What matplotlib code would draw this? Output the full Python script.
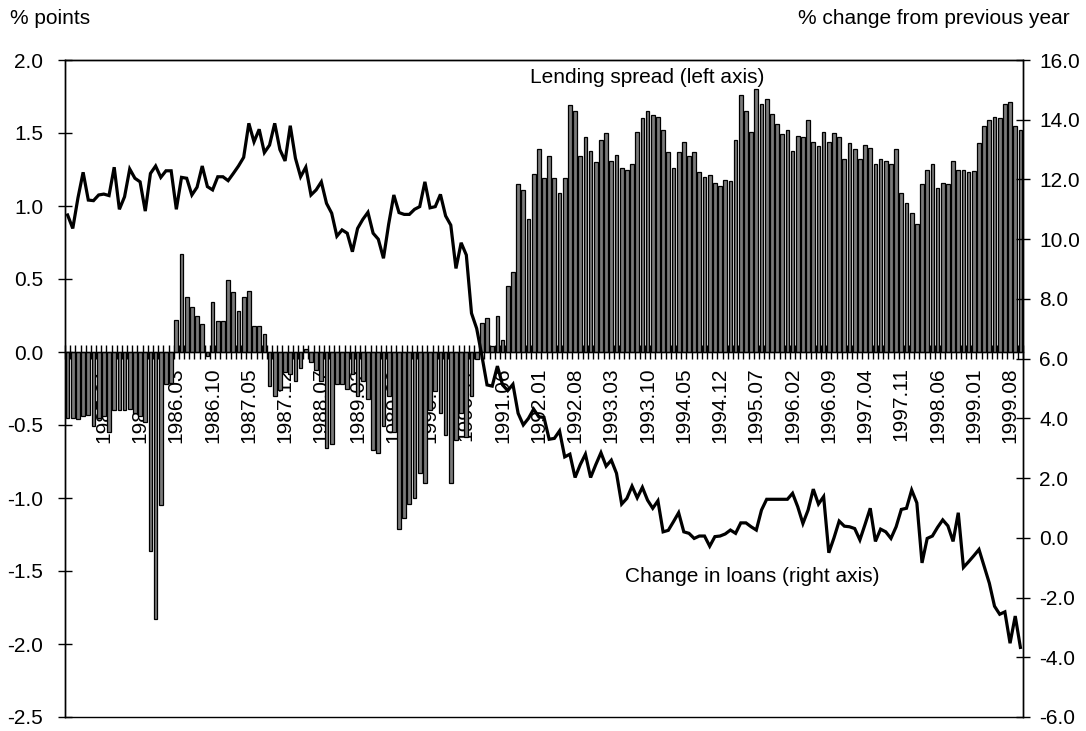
import matplotlib
matplotlib.use("Agg")
import matplotlib.pyplot as plt
from matplotlib.ticker import FormatStrFormatter, FixedLocator
import numpy as np

plt.rcParams['font.family'] = ['Liberation Sans', 'DejaVu Sans']
plt.rcParams['axes.unicode_minus'] = False

# Monthly lending spread (% points, left axis), 1984.06 - 1999.10
spread = [
    -0.45, -0.45, -0.46, -0.44, -0.43, -0.51, -0.45, -0.44, -0.55, -0.40,
    -0.40, -0.40, -0.39, -0.42, -0.44, -0.48, -1.36, -1.83, -1.05, -0.22,
    -0.21, 0.22, 0.67, 0.38, 0.31, 0.25, 0.19, -0.03, 0.34, 0.21,
    0.21, 0.49, 0.41, 0.28, 0.38, 0.42, 0.18, 0.18, 0.12, -0.23,
    -0.30, -0.26, -0.14, -0.15, -0.20, -0.11, 0.02, -0.07, -0.12, -0.20,
    -0.66, -0.63, -0.22, -0.22, -0.25, -0.15, -0.30, -0.20, -0.32, -0.67,
    -0.69, -0.51, -0.30, -0.55, -1.21, -1.14, -1.04, -1.00, -0.83, -0.90,
    -0.40, -0.27, -0.42, -0.57, -0.90, -0.60, -0.42, -0.58, -0.30, -0.05,
    0.20, 0.23, 0.04, 0.25, 0.08, 0.45, 0.55, 1.15, 1.11, 0.91,
    1.22, 1.39, 1.19, 1.34, 1.19, 1.09, 1.19, 1.69, 1.65, 1.34,
    1.47, 1.38, 1.30, 1.45, 1.50, 1.31, 1.35, 1.26, 1.25, 1.29,
    1.51, 1.60, 1.65, 1.62, 1.61, 1.52, 1.37, 1.26, 1.37, 1.44,
    1.34, 1.37, 1.23, 1.20, 1.21, 1.16, 1.14, 1.18, 1.17, 1.45,
    1.76, 1.65, 1.51, 1.80, 1.70, 1.73, 1.63, 1.56, 1.49, 1.52,
    1.38, 1.48, 1.47, 1.59, 1.44, 1.41, 1.51, 1.44, 1.50, 1.47,
    1.32, 1.43, 1.39, 1.32, 1.42, 1.40, 1.29, 1.32, 1.31, 1.29,
    1.39, 1.09, 1.02, 0.95, 0.88, 1.15, 1.25, 1.29, 1.12, 1.16,
    1.15, 1.31, 1.25, 1.25, 1.23, 1.24, 1.43, 1.55, 1.59, 1.61,
    1.60, 1.70, 1.71, 1.55, 1.52,
]

# Change in loans, % change from previous year (right axis)
loans = [
    10.81, 10.36, 11.38, 12.24, 11.31, 11.29, 11.48, 11.51, 11.46, 12.41,
    11.00, 11.42, 12.35, 12.04, 11.92, 10.94, 12.20, 12.45, 12.07, 12.29,
    12.29, 11.00, 12.07, 12.04, 11.48, 11.74, 12.45, 11.76, 11.65, 12.09,
    12.09, 11.96, 12.20, 12.45, 12.74, 13.88, 13.26, 13.68, 12.90, 13.15,
    13.88, 13.00, 12.62, 13.80, 12.71, 12.09, 12.41, 11.48, 11.65, 11.92,
    11.20, 10.87, 10.10, 10.31, 10.20, 9.58, 10.36, 10.66, 10.90, 10.20,
    10.00, 9.36, 10.50, 11.48, 10.89, 10.83, 10.83, 11.00, 11.09, 11.92,
    11.05, 11.09, 11.50, 10.78, 10.47, 9.02, 9.88, 9.47, 7.52, 7.01,
    6.10, 5.12, 5.08, 5.75, 5.12, 4.93, 5.14, 4.17, 3.78, 4.00,
    4.31, 4.05, 4.03, 3.30, 3.33, 3.58, 2.71, 2.80, 2.02, 2.45,
    2.80, 2.02, 2.45, 2.85, 2.40, 2.60, 2.16, 1.13, 1.32, 1.73,
    1.34, 1.69, 1.26, 0.99, 1.24, 0.20, 0.25, 0.54, 0.84, 0.20,
    0.15, -0.02, 0.06, 0.06, -0.28, 0.04, 0.06, 0.13, 0.26, 0.15,
    0.50, 0.50, 0.37, 0.26, 0.93, 1.29, 1.29, 1.29, 1.29, 1.29,
    1.49, 1.04, 0.48, 0.93, 1.63, 1.13, 1.38, -0.50, 0.00, 0.56,
    0.39, 0.37, 0.31, -0.07, 0.45, 0.99, -0.12, 0.29, 0.20, -0.02,
    0.37, 0.95, 0.99, 1.60, 1.17, -0.84, -0.02, 0.06, 0.35, 0.60,
    0.40, -0.12, 0.84, -0.99, -0.80, -0.60, -0.39, -0.95, -1.52, -2.29,
    -2.56, -2.48, -3.53, -2.62, -3.67,
]

# Category labels shown every seven months (first labelled month is index 7)
tick_labels = [
    "1985.01", "1985.08", "1986.03", "1986.10", "1987.05", "1987.12",
    "1988.07", "1989.02", "1989.09", "1990.04", "1990.11", "1991.06",
    "1992.01", "1992.08", "1993.03", "1993.10", "1994.05", "1994.12",
    "1995.07", "1996.02", "1996.09", "1997.04", "1997.11", "1998.06",
    "1999.01", "1999.08",
]
first_label = 7
label_step = 7

left_ticks = [-2.5, -2.0, -1.5, -1.0, -0.5, 0.0, 0.5, 1.0, 1.5, 2.0]
right_ticks = [-6, -4, -2, 0, 2, 4, 6, 8, 10, 12, 14, 16]

FS = 15
n = len(spread)
x = np.arange(n)

fig = plt.figure(figsize=(10.86, 7.31), dpi=100)
ax = fig.add_axes([65 / 1086, 14 / 731, 958 / 1086, 657 / 731])

ax.bar(x, spread, width=0.72, color="#7a7a7a", edgecolor="black",
       linewidth=0.9, zorder=2)
ax.set_xlim(-0.5, n - 0.5)
ax.set_ylim(-2.5, 2.0)
ax.set_yticks(left_ticks)
ax.yaxis.set_major_formatter(FormatStrFormatter('%.1f'))
ax.tick_params(axis='y', direction='inout', length=9.5, width=1.0,
               labelsize=FS, pad=11)

# category axis drawn along the zero line
ax.spines['bottom'].set_position(('data', 0))
ax.spines['bottom'].set_linewidth(1.0)
ax.spines['bottom'].set_zorder(2.5)
for s in ('top', 'right', 'left'):
    ax.spines[s].set_linewidth(1.0)
label_pos = [first_label + label_step * k for k in range(len(tick_labels))]
ax.set_xticks(label_pos)
ax.set_xticklabels(tick_labels, rotation=90, fontsize=FS)
ax.xaxis.set_minor_locator(FixedLocator(np.arange(n + 1) - 0.5))
ax.tick_params(axis='x', which='major', length=0, pad=11)
ax.tick_params(axis='x', which='minor', direction='inout', length=10,
               width=1.0)

ax.text(first_label + label_step * 15.0, 1.88, "Lending spread (left axis)",
        fontsize=FS, ha='center', va='center')

ax2 = ax.twinx()
ax2.plot(x, loans, color="black", linewidth=2.3, solid_joinstyle='miter')
ax2.set_ylim(-6, 16)
ax2.set_yticks(right_ticks)
ax2.yaxis.set_major_formatter(FormatStrFormatter('%.1f'))
ax2.tick_params(axis='y', direction='inout', length=9.5, width=1.0,
                labelsize=FS, pad=7)
for s in ax2.spines.values():
    s.set_linewidth(1.0)
ax2.text(first_label + label_step * 17.9, -1.3, "Change in loans (right axis)",
         fontsize=FS, ha='center', va='center')

fig.text(10 / 1086, 1 - 18 / 731, "% points", fontsize=FS,
         ha='left', va='center')
fig.text(1070 / 1086, 1 - 18 / 731, "% change from previous year",
         fontsize=FS, ha='right', va='center')

fig.savefig("out.png", dpi=100)
